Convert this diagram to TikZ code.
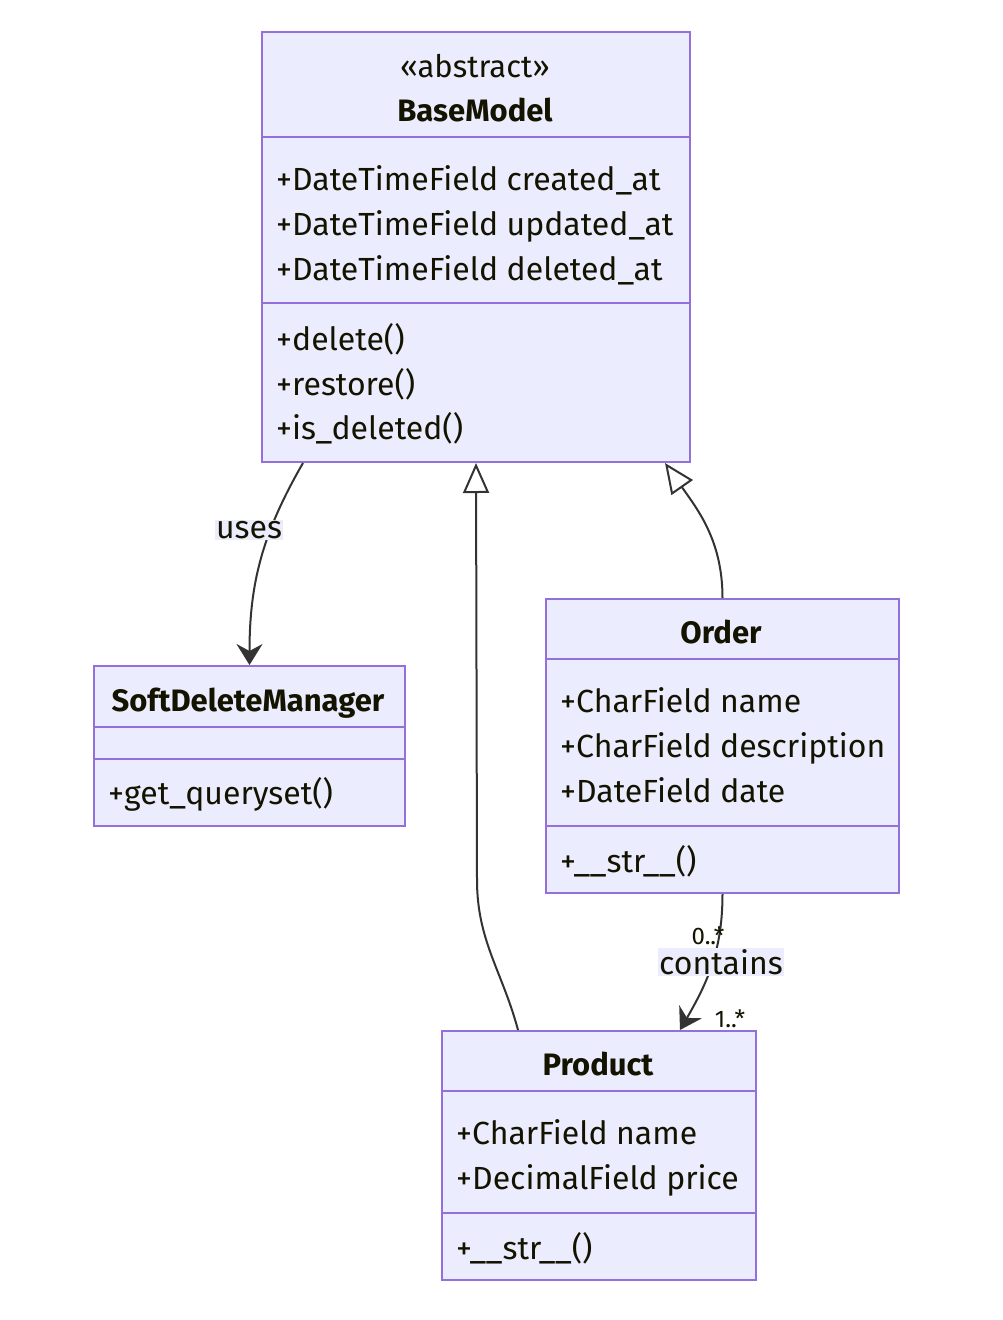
\documentclass[tikz,border=0pt]{standalone}
\usepackage{fontspec}
\setmainfont{Fira Sans}
\usetikzlibrary{arrows.meta,positioning}
\definecolor{classfill}{HTML}{ECECFF}
\definecolor{classline}{HTML}{9370DB}
\definecolor{edgeline}{HTML}{333333}
\definecolor{txtcol}{HTML}{131300}

\begin{document}
\begin{tikzpicture}[x=1pt, y=-1pt,
  classbox/.style={rectangle, draw=classline, fill=classfill, line width=2pt, inner sep=0pt, anchor=north west},
  divider/.style={draw=classline, line width=2pt},
  member/.style={anchor=west, inner sep=0pt, text height=22pt, text depth=0pt, text=txtcol, font=\fontsize{32}{36}\selectfont},
  title/.style={inner sep=0pt, text height=22pt, text depth=0pt, text=txtcol, font=\fontsize{31}{36}\selectfont\bfseries},
  stereo/.style={inner sep=0pt, text height=22pt, text depth=0pt, text=txtcol, font=\fontsize{31}{36}\selectfont},
  edgelbl/.style={fill=classfill, text=txtcol, inner sep=1pt, font=\fontsize{32}{36}\selectfont},
  multlbl/.style={inner sep=0pt, text=txtcol, font=\fontsize{24}{26}\selectfont},
  assoc/.style={draw=edgeline, line width=2pt, -{Stealth[length=21pt, width=26pt, inset=7pt]}},
  inherit/.style={draw=edgeline, line width=2pt, -{Triangle[length=30pt, width=26pt, fill=white]}}]

\useasboundingbox (0,0) rectangle (1002,1320);

% BaseModel
\node[classbox, minimum width=428pt, minimum height=430pt] (base) at (261,31) {};
\draw[divider] ([yshift=-106pt]base.north west) -- ([yshift=-106pt]base.north east);
\draw[divider] ([yshift=-272pt]base.north west) -- ([yshift=-272pt]base.north east);
\node[stereo] (basestereo) at (475,66) {«abstract»};
\node[title] (basetitle) at (475,110) {BaseModel};
\node[member] (basea1) at (276,179) {+DateTimeField created\_at};
\node[member] (basea2) at (276,224) {+DateTimeField updated\_at};
\node[member] (basea3) at (276,269) {+DateTimeField deleted\_at};
\node[member] (basem1) at (276,339) {+delete()};
\node[member] (basem2) at (276,384) {+restore()};
\node[member] (basem3) at (276,428) {+is\_deleted()};

% SoftDeleteManager
\node[classbox, minimum width=311pt, minimum height=160pt] (sdm) at (93,665) {};
\draw[divider] ([yshift=-62pt]sdm.north west) -- ([yshift=-62pt]sdm.north east);
\draw[divider] ([yshift=-94pt]sdm.north west) -- ([yshift=-94pt]sdm.north east);
\node[title] (sdmtitle) at (248,700) {SoftDeleteManager};
\node[member] (sdmm1) at (108,793) {+get\_queryset()};

% Order
\node[classbox, minimum width=353pt, minimum height=294pt] (order) at (545,598) {};
\draw[divider] ([yshift=-61pt]order.north west) -- ([yshift=-61pt]order.north east);
\draw[divider] ([yshift=-228pt]order.north west) -- ([yshift=-228pt]order.north east);
\node[title] (ordertitle) at (721,632) {Order};
\node[member] (ordera1) at (560,701) {+CharField name};
\node[member] (ordera2) at (560,746) {+CharField description};
\node[member] (ordera3) at (560,791) {+DateField date};
\node[member] (orderm1) at (560,861) {+\_\_str\_\_()};

% Product
\node[classbox, minimum width=314pt, minimum height=249pt] (prod) at (441,1030) {};
\draw[divider] ([yshift=-61pt]prod.north west) -- ([yshift=-61pt]prod.north east);
\draw[divider] ([yshift=-183pt]prod.north west) -- ([yshift=-183pt]prod.north east);
\node[title] (prodtitle) at (598,1064) {Product};
\node[member] (proda1) at (456,1133) {+CharField name};
\node[member] (proda2) at (456,1178) {+DecimalField price};
\node[member] (prodm1) at (456,1248) {+\_\_str\_\_()};

% connectors
\draw[assoc] ([xshift=42pt]base.south west) to[out=-120, in=90] (sdm.north);
\node[edgelbl] (useslbl) at (249,530) {uses};

\draw[inherit] (order.north) to[out=90, in=-55] ([xshift=-26pt]base.south east);

\draw[inherit] ([xshift=77pt]prod.north west) to[out=105, in=-90] ++(-41,-150) -- (base.south);

\draw[assoc] (order.south) to[out=-90, in=60] ([xshift=239pt]prod.north west);
\node[edgelbl] (containslbl) at (721,962) {contains};
\node[multlbl, anchor=south] (mult0) at (708,945) {0..*};
\node[multlbl] (mult1) at (730,1019) {1..*};

\end{tikzpicture}
\end{document}
